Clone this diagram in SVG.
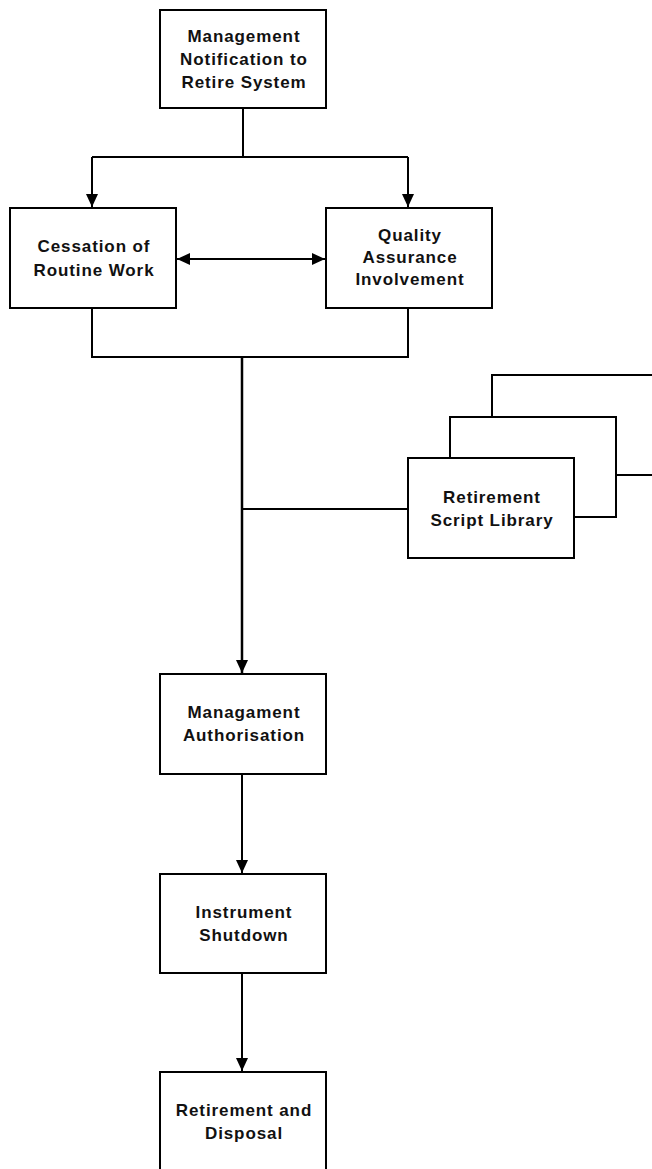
<svg xmlns="http://www.w3.org/2000/svg" width="652" height="1169" viewBox="0 0 652 1169">
  <style>
    .box { fill: #ffffff; stroke: #000000; stroke-width: 2; }
    .lbl { font-family: "Liberation Sans", Arial, sans-serif; font-weight: bold; font-size: 17px; letter-spacing: 0.9px; text-anchor: middle; fill: #111111; }
    .wire { fill: none; stroke: #000000; stroke-width: 2; }
    .arrow { fill: none; stroke: #000000; stroke-width: 2; marker-end: url(#head); }
  </style>
  <defs>
    <marker id="head" viewBox="0 0 13 12" refX="13" refY="6" markerWidth="13" markerHeight="12" markerUnits="userSpaceOnUse" orient="auto-start-reverse">
      <path d="M0,0 L13,6 L0,12 Z" fill="#000000"/>
    </marker>
  </defs>
  <rect width="652" height="1169" fill="#ffffff"/>

  <g id="connectors">
    <!-- fan-out from the notification box -->
    <path class="wire" d="M243,108 V157 M92,157 H408"/>
    <path class="arrow" d="M92,157 V207"/>
    <path class="arrow" d="M408,157 V207"/>
    <!-- two-way link between routine work and QA -->
    <path class="arrow" d="M177,259 H325" style="marker-start:url(#head)"/>
    <!-- merge into the main trunk -->
    <path class="wire" d="M92,308 V357 H408 V308"/>
    <path class="arrow" d="M242,357 V673" style="stroke-width:2.5"/>
    <!-- script library feed -->
    <path class="wire" d="M242,509 H408"/>
    <!-- lower chain -->
    <path class="arrow" d="M242,774 V873"/>
    <path class="arrow" d="M242,973 V1071"/>
  </g>

  <g id="notify">
    <rect class="box" x="160" y="10" width="166" height="98"/>
    <text class="lbl" x="244" y="42">Management</text>
    <text class="lbl" x="244" y="65">Notification to</text>
    <text class="lbl" x="244" y="88">Retire System</text>
  </g>

  <g id="cessation">
    <rect class="box" x="10" y="208" width="166" height="100"/>
    <text class="lbl" x="94" y="252">Cessation of</text>
    <text class="lbl" x="94" y="276">Routine Work</text>
  </g>

  <g id="qa">
    <rect class="box" x="326" y="208" width="166" height="100"/>
    <text class="lbl" x="410" y="241">Quality</text>
    <text class="lbl" x="410" y="263">Assurance</text>
    <text class="lbl" x="410" y="285">Involvement</text>
  </g>

  <g id="script-library">
    <rect class="box" x="492" y="375" width="166" height="100"/>
    <rect class="box" x="450" y="417" width="166" height="100"/>
    <rect class="box" x="408" y="458" width="166" height="100"/>
    <text class="lbl" x="492" y="503">Retirement</text>
    <text class="lbl" x="492" y="526">Script Library</text>
  </g>

  <g id="authorisation">
    <rect class="box" x="160" y="674" width="166" height="100"/>
    <text class="lbl" x="244" y="718">Managament</text>
    <text class="lbl" x="244" y="741">Authorisation</text>
  </g>

  <g id="shutdown">
    <rect class="box" x="160" y="874" width="166" height="99"/>
    <text class="lbl" x="244" y="918">Instrument</text>
    <text class="lbl" x="244" y="941">Shutdown</text>
  </g>

  <g id="disposal">
    <rect class="box" x="160" y="1072" width="166" height="100"/>
    <text class="lbl" x="244" y="1116">Retirement and</text>
    <text class="lbl" x="244" y="1139">Disposal</text>
  </g>
</svg>
